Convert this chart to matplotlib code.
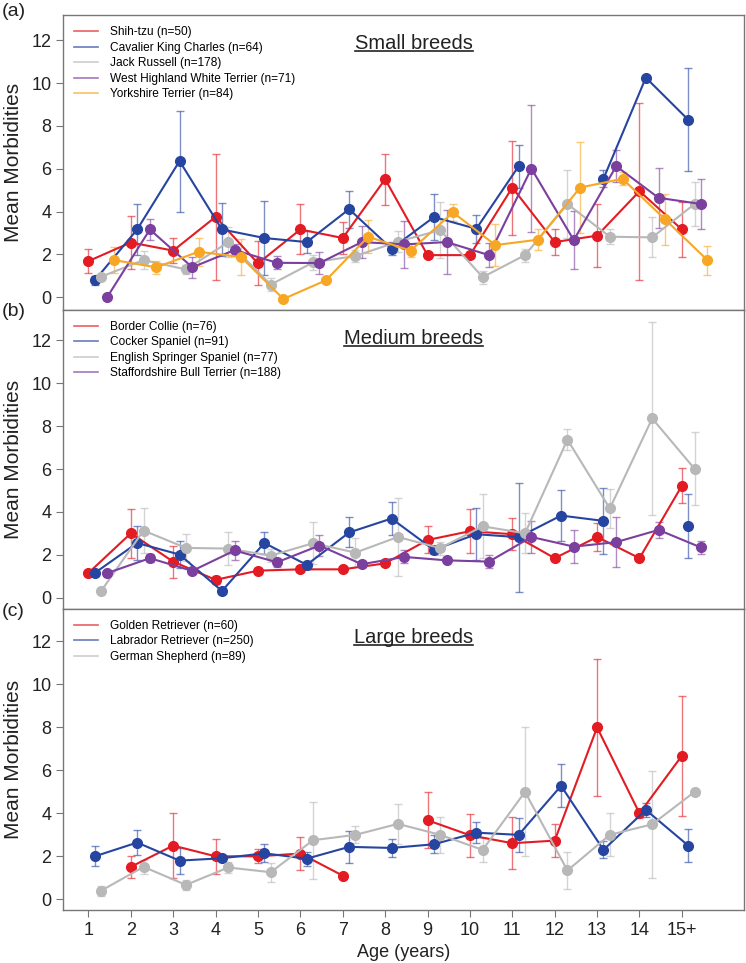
import numpy as np
import matplotlib
matplotlib.use("Agg")
import matplotlib.pyplot as plt
from matplotlib.lines import Line2D

plt.rcParams['font.family'] = ['Liberation Sans', 'DejaVu Sans']

nan = np.nan

# age groups
ages = [1, 2, 3, 4, 5, 6, 7, 8, 9, 10, 11, 12, 13, 14, 15]
age_labels = ['1', '2', '3', '4', '5', '6', '7', '8', '9', '10', '11', '12', '13', '14', '15+']

# small breeds
shihtzu = [1.68, 2.55, 2.17, 3.75, 1.57, 3.16, 2.76, 5.51, 1.96, 1.96, 5.12, 2.57, 2.87, 4.95, 3.16]
shihtzu_err = [0.56, 1.25, 0.57, 2.96, 1.03, 1.17, 0.73, 1.2, 0, 0, 2.2, 0.59, 1.48, 4.13, 1.3]
cavalier = [0.78, 3.16, 6.36, 3.16, 2.76, 2.57, 4.11, 2.26, 3.74, 3.19, 6.12, nan, 5.53, 10.26, 8.29]
cavalier_err = [0.2, 1.19, 2.36, 1.22, 1.71, 0.5, 0.87, 0.3, 1.06, 0.64, 1.01, 0, 0.4, 0, 2.4]
jackrussell = [0.95, 1.73, 1.29, 2.57, 0.58, 1.62, 1.92, 2.59, 3.13, 0.93, 1.96, 4.35, 2.82, 2.79, 4.35]
jackrussell_err = [0.1, 0.42, 0.2, 0.72, 0.3, 0.34, 0.3, 0.5, 1.3, 0.3, 0.3, 1.6, 0.35, 0.93, 1.04]
westie = [0.02, 3.16, 1.39, 2.2, 1.6, 1.59, 2.57, 2.46, 2.57, 1.96, 6.01, 2.66, 6.12, 4.64, 4.35]
westie_err = [0, 0.47, 0.5, 0.3, 0.3, 0.5, 0.76, 1.09, 1.5, 0.55, 2.95, 1.37, 0.75, 1.4, 1.18]
yorkie = [1.73, 1.39, 2.12, 1.87, -0.09, 0.78, 2.82, 2.17, 3.96, 2.43, 2.68, 5.12, 5.53, 3.64, 1.73]
yorkie_err = [0.62, 0.3, 0.65, 0.86, 0, 0, 0.78, 0.3, 0.39, 0.98, 0.48, 2.11, 0.3, 1.2, 0.68]

# medium breeds
bordercollie = [1.15, 3.0, 1.68, 0.83, 1.26, 1.32, 1.32, 1.6, 2.69, 3.1, 2.96, 1.84, 2.83, 1.84, 5.22]
bordercollie_err = [0.1, 1.14, 0.75, 0.2, 0.1, 0.1, 0.1, 0.1, 0.63, 1.03, 0.76, 0.1, 0.64, 0.1, 0.82]
cocker = [1.15, 2.55, 2.01, 0.31, 2.55, 1.53, 3.04, 3.69, 2.23, 2.96, 2.82, 3.83, 3.58, nan, 3.33]
cocker_err = [0.1, 0.8, 0.65, 0.1, 0.5, 0.2, 0.7, 0.75, 0.2, 1.2, 2.55, 1.2, 1.55, 0, 1.5]
springer = [0.31, 3.13, 2.32, 2.29, 1.96, 2.54, 2.1, 2.83, 2.31, 3.33, 3.0, 7.37, 4.16, 8.36, 6.01]
springer_err = [0.1, 1.04, 0.63, 0.76, 0.3, 0.98, 0.69, 1.8, 0.3, 1.5, 0.94, 0.5, 0.9, 4.5, 1.7]
staffie = [1.15, 1.84, 1.25, 2.2, 1.65, 2.43, 1.56, 1.9, 1.74, 1.68, 2.83, 2.38, 2.59, 3.16, 2.34]
staffie_err = [0.1, 0.2, 0.1, 0.45, 0.2, 0.5, 0.15, 0.3, 0.1, 0.3, 0.75, 0.78, 1.18, 0.38, 0.3]

# large breeds
golden = [nan, 1.51, 2.5, 2.0, 2.0, 2.13, 1.1, nan, 3.68, 2.98, 2.61, 2.73, 8.0, 4.0, 6.68]
golden_err = [0, 0.5, 1.5, 0.8, 0.33, 0.76, 0.1, 0, 1.3, 1.0, 1.2, 0.76, 3.2, 0.2, 2.8]
labrador = [2.0, 2.64, 1.8, 1.91, 2.14, 1.89, 2.44, 2.39, 2.56, 3.1, 3.0, 5.28, 2.3, 4.16, 2.5]
labrador_err = [0.47, 0.57, 0.6, 0.17, 0.42, 0.33, 0.74, 0.42, 0.41, 0.49, 0.79, 1.0, 0.4, 0.33, 0.76]
shepherd = [0.4, 1.51, 0.67, 1.48, 1.26, 2.75, 3.0, 3.51, 3.0, 2.3, 5.0, 1.34, 3.0, 3.49, 5.0]
shepherd_err = [0.24, 0.32, 0.23, 0.27, 0.45, 1.8, 0.39, 0.92, 0.85, 0.56, 3.0, 0.88, 1.0, 2.5, 0]

RED = '#e31b23'
BLUE = '#2645a0'
GRAY = '#b8b8b8'
PURPLE = '#7b3f9e'
ORANGE = '#f8a724'

panels = [
    ('(a)', 'Small breeds', [
        ('Shih-tzu (n=50)', shihtzu, shihtzu_err, RED),
        ('Cavalier King Charles (n=64)', cavalier, cavalier_err, BLUE),
        ('Jack Russell (n=178)', jackrussell, jackrussell_err, GRAY),
        ('West Highland White Terrier (n=71)', westie, westie_err, PURPLE),
        ('Yorkshire Terrier (n=84)', yorkie, yorkie_err, ORANGE),
    ], (-0.61, 13.17)),
    ('(b)', 'Medium breeds', [
        ('Border Collie (n=76)', bordercollie, bordercollie_err, RED),
        ('Cocker Spaniel (n=91)', cocker, cocker_err, BLUE),
        ('English Springer Spaniel (n=77)', springer, springer_err, GRAY),
        ('Staffordshire Bull Terrier (n=188)', staffie, staffie_err, PURPLE),
    ], (-0.53, 13.42)),
    ('(c)', 'Large breeds', [
        ('Golden Retriever (n=60)', golden, golden_err, RED),
        ('Labrador Retriever (n=250)', labrador, labrador_err, BLUE),
        ('German Shepherd (n=89)', shepherd, shepherd_err, GRAY),
    ], (-0.5, 13.51)),
]

fig = plt.figure(figsize=(7.46, 9.63), dpi=100)

# axes boxes in figure fraction (left, bottom, width, height)
boxes = [(0.085, 0.678, 0.912, 0.306),
         (0.085, 0.3676, 0.912, 0.3105),
         (0.085, 0.055, 0.912, 0.3126)]

titles = []
for i, (tag, title, series, ylim) in enumerate(panels):
    ax = fig.add_axes(boxes[i])
    handles = []
    for j, (name, vals, err, col) in enumerate(series):
        # each breed is nudged a bit to the right so the bars don't overlap
        x = np.array(ages) + 0.15 * j
        ax.errorbar(x, vals, yerr=err, fmt='none', ecolor=col, alpha=0.6,
                    elinewidth=1.0, capsize=3, capthick=1.0, zorder=2)
        ax.plot(x, vals, '-o', color=col, lw=1.5, markersize=7, zorder=3)
        handles.append(Line2D([], [], color=col, lw=1.2, alpha=0.7))
    ax.legend(handles, [s[0] for s in series], loc='upper left', fontsize=8.6,
              frameon=False, handlelength=2.0, handletextpad=1.0,
              labelspacing=0.3, borderaxespad=0.5)
    t = ax.text(0.515, 0.905, title, transform=ax.transAxes, ha='center', va='center',
                fontsize=14.5, color='#222222')
    titles.append(t)
    ax.set_xlim(0.41, 16.46)
    ax.set_ylim(*ylim)
    ax.set_yticks([0, 2, 4, 6, 8, 10, 12])
    ax.tick_params(axis='y', direction='out', length=5, labelsize=13,
                   labelcolor='#222222', color='#777777')
    ax.set_ylabel('Mean Morbidities', fontsize=15, color='#222222', labelpad=6)
    for s in ax.spines.values():
        s.set_color('#777777')
        s.set_linewidth(1.0)
    if i == 2:
        ax.set_xticks(ages)
        ax.set_xticklabels(age_labels)
        ax.tick_params(axis='x', direction='out', length=5, labelsize=13,
                       labelcolor='#222222', color='#777777')
        ax.set_xlabel('Age (years)', fontsize=13, color='#222222', labelpad=4)
    else:
        ax.set_xticks([])
    # panel letter
    fig.text(0.002, (963 - [11, 311, 611][i]) / 963.0, tag, fontsize=14, va='center',
             ha='left', color='#222222')

# underline the titles (mathtext has no \underline)
fig.canvas.draw()
inv = fig.transFigure.inverted()
for t in titles:
    bb = t.get_window_extent()
    (x0, y0), (x1, y1) = inv.transform([(bb.x0, bb.y0 + 2), (bb.x1, bb.y0 + 2)])
    fig.add_artist(Line2D([x0, x1], [y0, y1], color='#222222', lw=1.2))

plt.savefig('out.png', dpi=100)
